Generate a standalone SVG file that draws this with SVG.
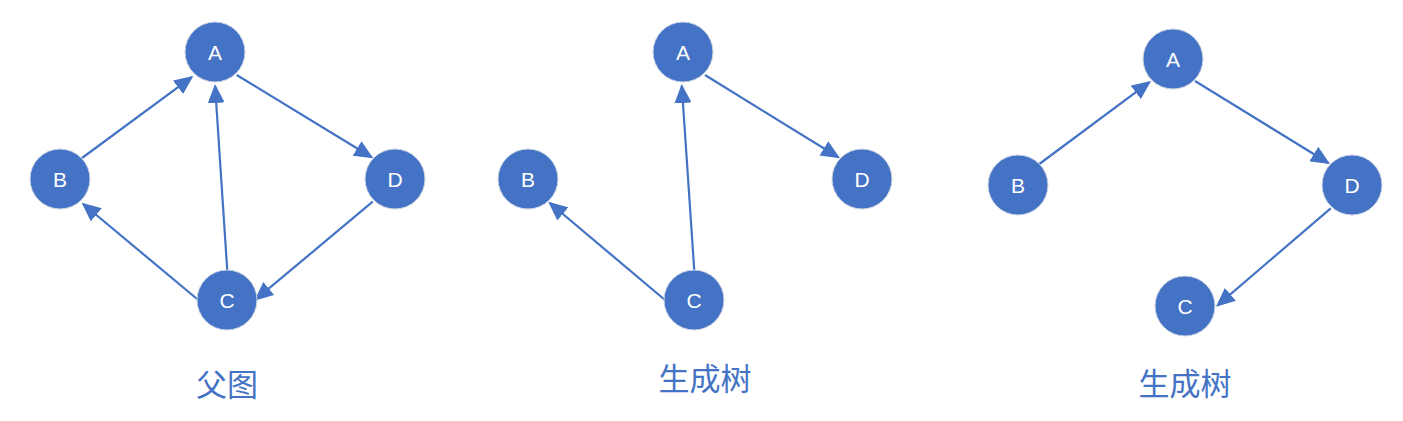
<svg xmlns="http://www.w3.org/2000/svg" width="1403" height="421" viewBox="0 0 1403 421">
<style>
.node circle{fill:#4472C4;stroke:#cfd6e4;stroke-width:1}
.node text{fill:#ffffff;font-family:"Liberation Sans","DejaVu Sans",sans-serif;font-size:21px;text-anchor:middle}
.edge{stroke:#4472C4;stroke-width:2.2;fill:none;marker-end:url(#arr)}
.cap{fill:#4472C4;font-family:"Noto Sans CJK SC","Noto Sans",sans-serif;font-size:31px;text-anchor:middle}
</style>
<defs>
<marker id="arr" viewBox="0 0 19 17" markerWidth="19" markerHeight="17" refX="17" refY="8.5" orient="auto" markerUnits="userSpaceOnUse">
<path d="M0,0 L19,8.5 L0,17 z" fill="#4472C4"/>
</marker>
</defs>
<rect width="1403" height="421" fill="#ffffff"/>
<g id="connectors">
<line class="edge" x1="82" y1="158" x2="191.7" y2="77.2"/>
<line class="edge" x1="227.3" y1="271" x2="215.1" y2="86"/>
<line class="edge" x1="236.7" y1="75" x2="371.6" y2="157.3"/>
<line class="edge" x1="372.7" y1="201.7" x2="255.8" y2="299.4"/>
<line class="edge" x1="198.3" y1="300" x2="83.2" y2="204"/>
<line class="edge" x1="694.3" y1="271" x2="681.8" y2="86"/>
<line class="edge" x1="705" y1="75" x2="838.3" y2="157.3"/>
<line class="edge" x1="665" y1="300" x2="549.8" y2="203"/>
<line class="edge" x1="1039.3" y1="164" x2="1149.4" y2="82.2"/>
<line class="edge" x1="1195" y1="81" x2="1328.3" y2="163"/>
<line class="edge" x1="1330.7" y1="208.3" x2="1217.5" y2="305.4"/>
</g>
<g id="g1A" class="node"><circle cx="215" cy="52" r="30"/><text x="215" y="59.5">A</text></g>
<g id="g1B" class="node"><circle cx="60" cy="179" r="30"/><text x="60" y="186.5">B</text></g>
<g id="g1D" class="node"><circle cx="395" cy="179" r="30"/><text x="395" y="186.5">D</text></g>
<g id="g1C" class="node"><circle cx="227" cy="300" r="30"/><text x="227" y="307.5">C</text></g>
<g id="g2A" class="node"><circle cx="683" cy="52" r="30"/><text x="683" y="59.5">A</text></g>
<g id="g2B" class="node"><circle cx="528" cy="179" r="30"/><text x="528" y="186.5">B</text></g>
<g id="g2D" class="node"><circle cx="862" cy="179" r="30"/><text x="862" y="186.5">D</text></g>
<g id="g2C" class="node"><circle cx="694" cy="300" r="30"/><text x="694" y="307.5">C</text></g>
<g id="g3A" class="node"><circle cx="1173" cy="59" r="30"/><text x="1173" y="66.5">A</text></g>
<g id="g3B" class="node"><circle cx="1018" cy="185" r="30"/><text x="1018" y="192.5">B</text></g>
<g id="g3D" class="node"><circle cx="1352" cy="185" r="30"/><text x="1352" y="192.5">D</text></g>
<g id="g3C" class="node"><circle cx="1185" cy="306" r="30"/><text x="1185" y="313.5">C</text></g>
<g id="captions">
<text class="cap" x="227" y="396">父图</text>
<text class="cap" x="705" y="390">生成树</text>
<text class="cap" x="1185" y="395">生成树</text>
</g>
</svg>
